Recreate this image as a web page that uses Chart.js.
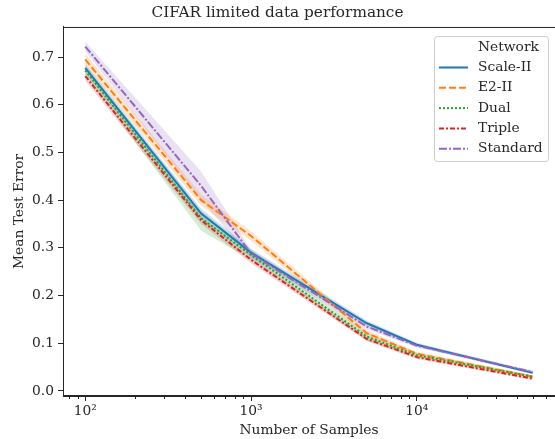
<!DOCTYPE html>
<html>
<head>
<meta charset="utf-8">
<script src="https://cdn.jsdelivr.net/npm/chart.js@4/dist/chart.umd.min.js"></script>
<style>
  html, body { margin: 0; padding: 0; background: #fff; }
  #wrap { width: 555px; height: 439px; }
</style>
</head>
<body>
<div id="wrap"><canvas id="cifarChart" width="555" height="439"></canvas></div>
<script>
// number of training samples (x)
const samples = [100, 500, 1000, 5000, 10000, 50000];

// mean test error per network, with the shaded band (lo / hi)
const scaleII   = [0.677, 0.372, 0.290, 0.142, 0.097, 0.038];
const scaleIILo = [0.668, 0.362, 0.282, 0.136, 0.093, 0.035];
const scaleIIHi = [0.686, 0.382, 0.298, 0.148, 0.101, 0.041];

const e2II   = [0.695, 0.400, 0.325, 0.121, 0.078, 0.030];
const e2IILo = [0.683, 0.388, 0.315, 0.114, 0.074, 0.027];
const e2IIHi = [0.707, 0.412, 0.335, 0.128, 0.082, 0.033];

const dual   = [0.672, 0.362, 0.285, 0.114, 0.075, 0.030];
const dualLo = [0.662, 0.336, 0.275, 0.106, 0.070, 0.027];
const dualHi = [0.682, 0.378, 0.295, 0.122, 0.080, 0.033];

const triple   = [0.660, 0.358, 0.275, 0.109, 0.071, 0.026];
const tripleLo = [0.650, 0.350, 0.268, 0.104, 0.067, 0.023];
const tripleHi = [0.670, 0.366, 0.282, 0.114, 0.075, 0.029];

const standard   = [0.722, 0.430, 0.288, 0.135, 0.095, 0.040];
const standardLo = [0.712, 0.400, 0.280, 0.129, 0.091, 0.037];
const standardHi = [0.732, 0.460, 0.296, 0.141, 0.099, 0.043];

// axis ticks
const yTicks = [0.0, 0.1, 0.2, 0.3, 0.4, 0.5, 0.6, 0.7];
const xMajorTicks = [100, 1000, 10000];
const xMajorLabels = ['10\u00B2', '10\u00B3', '10\u2074'];
const xMinorTicks = [80, 90, 200, 300, 400, 500, 600, 700, 800, 900,
                     2000, 3000, 4000, 5000, 6000, 7000, 8000, 9000,
                     20000, 30000, 40000, 50000, 60000];

const series = [
    { label: 'Scale-II', mean: scaleII,  lo: scaleIILo,  hi: scaleIIHi,  color: '31,119,180',  dash: [] },
    { label: 'E2-II',    mean: e2II,     lo: e2IILo,     hi: e2IIHi,     color: '255,127,14',  dash: [7, 3] },
    { label: 'Dual',     mean: dual,     lo: dualLo,     hi: dualHi,     color: '44,160,44',   dash: [2, 2] },
    { label: 'Triple',   mean: triple,   lo: tripleLo,   hi: tripleHi,   color: '214,39,40',   dash: [5, 2, 2, 2] },
    { label: 'Standard', mean: standard, lo: standardLo, hi: standardHi, color: '148,103,189', dash: [8, 2, 2, 2] }
];

const FONT = "'DejaVu Serif', 'Liberation Serif', serif";
const TXT = '#262626';
const FS = 13.8;

const pts = arr => samples.map((s, i) => ({ x: s, y: arr[i] }));

const datasets = [];
series.forEach(s => {
    // band: hi fills down to lo
    datasets.push({
        label: s.label + ' hi',
        data: pts(s.hi), borderWidth: 0, pointRadius: 0,
        backgroundColor: `rgba(${s.color},0.2)`, fill: '+1', order: 10
    });
    datasets.push({
        label: s.label + ' lo',
        data: pts(s.lo), borderWidth: 0, pointRadius: 0, fill: false, order: 10
    });
});
series.forEach((s, k) => {
    datasets.push({
        label: s.label,
        data: pts(s.mean),
        borderColor: `rgb(${s.color})`,
        borderWidth: 2,
        borderDash: s.dash,
        pointRadius: 0,
        fill: false,
        tension: 0,
        order: 5 - k
    });
});

// frame, minor x ticks and the boxed legend
const extras = {
    id: 'extras',
    afterDraw(chart) {
        const { ctx, chartArea: a } = chart;
        const xs = chart.scales.x;
        ctx.save();
        ctx.strokeStyle = TXT;
        ctx.lineWidth = 1;
        ctx.strokeRect(a.left + 0.5, a.top + 0.5, a.right - a.left, a.bottom - a.top);
        xMinorTicks.forEach(v => {
            const px = Math.round(xs.getPixelForValue(v)) + 0.5;
            ctx.beginPath();
            ctx.moveTo(px, a.bottom);
            ctx.lineTo(px, a.bottom + 3);
            ctx.stroke();
        });

        // legend
        const lx = 434, ly = 36, lw = 114, lh = 125;
        ctx.fillStyle = 'rgba(255,255,255,0.8)';
        ctx.strokeStyle = '#cccccc';
        ctx.beginPath();
        ctx.roundRect(lx + 0.5, ly + 0.5, lw, lh, 3);
        ctx.fill();
        ctx.stroke();
        ctx.font = FS + 'px ' + FONT;
        ctx.fillStyle = TXT;
        ctx.textBaseline = 'middle';
        ctx.fillText('Network', 478, 47);
        series.forEach((s, i) => {
            const y = 67.5 + i * 20.3;
            ctx.strokeStyle = `rgb(${s.color})`;
            ctx.lineWidth = 2;
            ctx.setLineDash(s.dash);
            ctx.beginPath();
            ctx.moveTo(439, y);
            ctx.lineTo(468, y);
            ctx.stroke();
            ctx.setLineDash([]);
            ctx.fillText(s.label, 478, y);
        });
        ctx.restore();
    }
};

const ctx = document.getElementById('cifarChart').getContext('2d');
new Chart(ctx, {
    type: 'line',
    data: { datasets: datasets },
    plugins: [extras],
    options: {
        responsive: false,
        animation: false,
        layout: { padding: 0 },
        plugins: {
            legend: { display: false },
            tooltip: { enabled: false },
            title: {
                display: true,
                text: 'CIFAR limited data performance',
                color: TXT,
                font: { family: FONT, size: 15.3, weight: 'normal' },
                padding: { top: 4, bottom: 4.6 }
            }
        },
        scales: {
            x: {
                type: 'logarithmic',
                min: 73.4,
                max: 68200,
                afterFit: scale => { scale.height = 43; },
                afterBuildTicks: scale => {
                    scale.ticks = xMajorTicks.map(v => ({ value: v }));
                },
                grid: { drawOnChartArea: false, tickLength: 5, tickColor: TXT },
                border: { color: TXT },
                ticks: {
                    autoSkip: false,
                    maxRotation: 0,
                    padding: 2,
                    color: TXT,
                    font: { family: FONT, size: FS },
                    callback: (v) => xMajorLabels[xMajorTicks.indexOf(v)]
                },
                title: {
                    display: true,
                    text: 'Number of Samples',
                    color: TXT,
                    font: { family: FONT, size: FS },
                    padding: { top: 0, bottom: 0 }
                }
            },
            y: {
                min: -0.0105,
                max: 0.763,
                afterFit: scale => { scale.width = 63; },
                afterBuildTicks: scale => {
                    scale.ticks = yTicks.map(v => ({ value: v }));
                },
                grid: { drawOnChartArea: false, tickLength: 5, tickColor: TXT },
                border: { color: TXT },
                ticks: {
                    padding: 4,
                    color: TXT,
                    font: { family: FONT, size: FS },
                    callback: v => v.toFixed(1)
                },
                title: {
                    display: true,
                    text: 'Mean Test Error',
                    color: TXT,
                    font: { family: FONT, size: FS },
                    padding: { top: 11, bottom: 0 }
                }
            }
        }
    }
});
</script>
</body>
</html>
